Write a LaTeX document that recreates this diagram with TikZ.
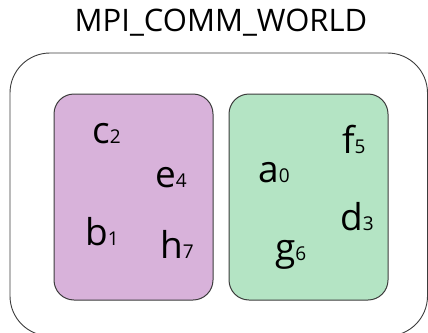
\documentclass[tikz,border=0pt]{standalone}
\usepackage{fontspec}
\setmainfont{Open Sans}
\definecolor{procpurple}{RGB}{216,178,218}
\definecolor{procgreen}{RGB}{180,228,196}
\definecolor{edgegray}{RGB}{60,60,60}
\newcommand{\rank}[2]{#1{\fontsize{19}{19}\selectfont #2}}
\begin{document}
\begin{tikzpicture}[x=1pt, y=-1pt,
    group/.style={draw=edgegray, line width=1pt, rounded corners=20pt},
    label/.style={anchor=base west, inner sep=0pt, font=\fontsize{37}{37}\selectfont}]
    \useasboundingbox (0,0) rectangle (428,332);

    % Title
    \node[anchor=base, inner sep=0pt, font=\fontsize{31}{31}\selectfont] (title) at (221,31) {MPI\_COMM\_WORLD};

    % Communicator
    \draw[edgegray, line width=0.9pt, rounded corners=40pt] (10,53) rectangle (427.5,336);

    % Groups
    \draw[group, fill=procpurple] (54,94) rectangle (213,300);
    \draw[group, fill=procgreen] (229,94) rectangle (388,300);

    % Left group ranks
    \node[label] (c) at (92,143) {\rank{c}{2}};
    \node[label] (e) at (155,187) {\rank{e}{4}};
    \node[label] (b) at (85,245) {\rank{b}{1}};
    \node[label] (h) at (160,258) {\rank{h}{7}};

    % Right group ranks
    \node[label] (a) at (258,182) {\rank{a}{0}};
    \node[label] (f) at (342,153) {\rank{f}{5}};
    \node[label] (d) at (340,230) {\rank{d}{3}};
    \node[label] (g) at (275,260) {\rank{g}{6}};
\end{tikzpicture}
\end{document}
